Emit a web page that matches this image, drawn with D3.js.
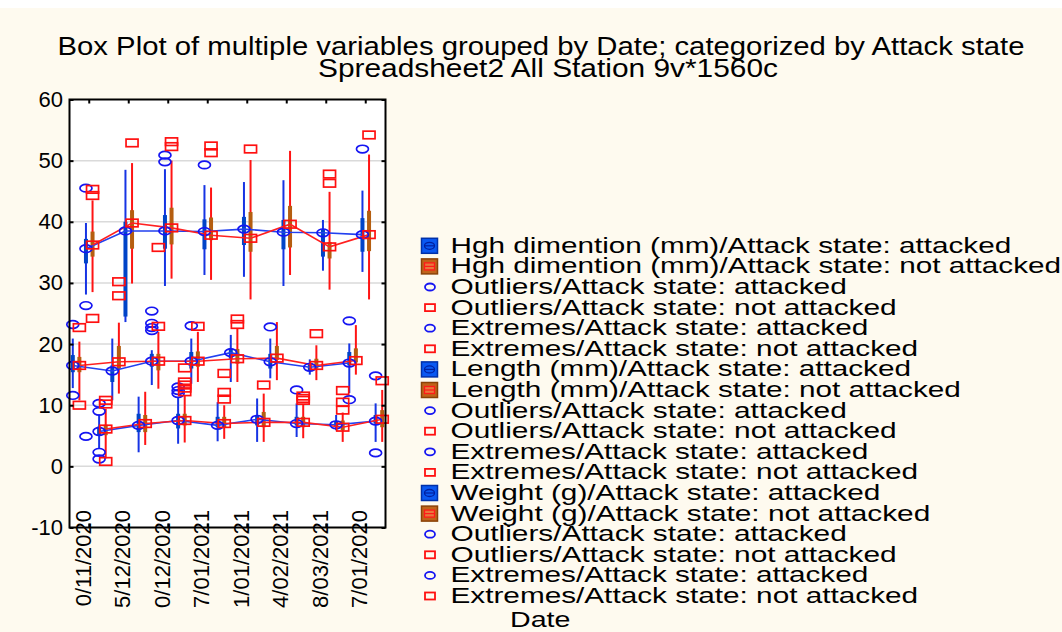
<!DOCTYPE html>
<html>
<head>
<meta charset="utf-8">
<script src="https://cdn.jsdelivr.net/npm/d3@7"></script>
<style>
  html, body { margin: 0; padding: 0; background: #fefaef; }
  svg { display: block; }
  text { font-family: "Liberation Sans", Arial, sans-serif; fill: #000; }
</style>
</head>
<body>
<svg id="chart" width="1062" height="632"></svg>
<script>
// ---- data ---------------------------------------------------------------
const dates = ["0/11/2020", "5/12/2020", "0/12/2020", "7/01/2021",
               "1/01/2021", "4/02/2021", "8/03/2021", "7/01/2020"];

const yTicks = [-10, 0, 10, 20, 30, 40, 50, 60];

// Each entry per date: [whisker low, Q1, median, Q3, whisker high]
const hghAttacked = [
  [28.1, 33.2, 35.6, 37.2, 39.8], [23.6, 24.5, 38.5, 40.0, 48.5],
  [29.5, 35.6, 38.5, 41.1, 48.6], [31.3, 35.5, 38.4, 40.4, 46.0],
  [31.0, 36.2, 38.8, 40.8, 46.5], [29.5, 35.5, 38.3, 40.3, 46.8],
  [32.0, 34.3, 38.2, 38.7, 40.3], [31.8, 35.1, 37.9, 40.6, 45.1]
];
const hghNotAttacked = [
  [28.5, 34.3, 36.2, 38.4, 43.5], [29.9, 35.6, 39.8, 41.9, 49.6],
  [30.7, 36.3, 39.0, 42.3, 50.0], [30.5, 37.0, 37.8, 40.7, 45.6],
  [27.3, 35.1, 37.3, 41.6, 50.1], [31.3, 35.8, 39.6, 42.6, 51.6],
  [28.9, 34.0, 35.9, 36.7, 44.9], [27.3, 35.2, 37.9, 41.8, 51.0]
];
const lenAttacked = [
  [12.8, 15.4, 16.5, 18.2, 20.9], [10.8, 13.8, 15.6, 16.5, 20.9],
  [13.3, 16.3, 17.2, 18.4, 19.0], [13.5, 16.0, 17.2, 18.7, 20.9],
  [13.8, 17.6, 18.6, 19.3, 21.5], [14.4, 16.0, 17.1, 18.4, 20.9],
  [15.0, 15.6, 16.2, 16.8, 17.5], [12.0, 16.5, 16.9, 18.7, 20.1]
];
const lenNotAttacked = [
  [10.8, 15.4, 16.5, 17.9, 20.4], [11.9, 16.0, 17.1, 19.7, 23.5],
  [12.7, 15.7, 17.2, 18.4, 22.0], [13.8, 16.3, 17.2, 18.8, 22.0],
  [13.8, 16.8, 17.6, 19.2, 22.5], [14.1, 17.4, 17.7, 19.7, 23.6],
  [14.1, 16.0, 16.5, 17.6, 19.8], [15.0, 17.0, 17.3, 19.3, 23.1]
];
const wgtAttacked = [
  [3.0, 5.0, 5.7, 6.5, 8.5], [2.3, 5.6, 6.7, 8.6, 11.4],
  [3.7, 6.2, 7.5, 8.6, 11.2], [4.1, 6.4, 6.7, 8.1, 10.5],
  [4.0, 6.7, 7.7, 8.4, 11.1], [4.8, 6.7, 7.0, 8.1, 10.3],
  [5.9, 6.4, 6.8, 7.4, 8.4], [4.0, 7.0, 7.4, 8.4, 10.3]
];
const wgtNotAttacked = [
  [1.3, 5.1, 6.1, 6.8, 9.4], [3.5, 5.6, 7.0, 8.4, 12.2],
  [3.9, 6.7, 7.5, 8.6, 11.5], [4.5, 6.4, 7.0, 8.1, 10.0],
  [4.0, 6.4, 7.2, 8.9, 11.9], [4.6, 6.4, 7.2, 8.1, 10.2],
  [4.0, 5.9, 6.4, 7.5, 8.8], [4.0, 6.4, 7.7, 9.2, 12.5]
];

// Outliers and extremes: [date index, value]
const hghAttackedOut = [[0, 45.5], [0, 26.3], [0, 4.9], [2, 50.9], [2, 49.8],
                        [3, 49.3], [7, 51.9]];
const hghNotAttackedOut = [[0, 45.3], [0, 44.3], [0, 24.2], [1, 52.9], [2, 53.1],
                           [2, 52.3], [3, 52.4], [3, 51.3], [4, 51.9], [6, 47.8],
                           [6, 46.3], [7, 54.2]];
const lenAttackedOut = [[0, 23.2], [0, 11.6], [2, 25.4], [2, 23.4], [2, 22.7],
                        [2, 22.2], [3, 23.0], [5, 22.8], [7, 23.8], [7, 10.9]];
const lenNotAttackedOut = [[0, 22.7], [0, 10.0], [1, 30.2], [1, 27.9], [2, 22.9],
                           [2, 35.8], [3, 22.9], [4, 24.1], [4, 23.2], [6, 21.7]];
const wgtAttackedOut = [[0, 10.3], [0, 9.0], [0, 2.3], [0, 1.2], [2, 13.0],
                        [2, 12.4], [2, 11.9], [5, 12.5], [7, 14.8], [7, 2.2]];
const wgtNotAttackedOut = [[0, 10.8], [0, 10.2], [0, 0.8], [2, 16.1], [2, 13.8],
                           [2, 13.3], [2, 12.8], [2, 12.2], [3, 15.2], [3, 12.1],
                           [3, 11.0], [4, 13.3], [5, 11.5], [5, 11.1], [5, 10.8],
                           [6, 12.4], [6, 10.5], [6, 9.2], [7, 14.0]];

// Series, in their left-to-right order inside each date group
const series = [
  { key: "lenA", state: "a", box: lenAttacked,     out: lenAttackedOut },
  { key: "lenN", state: "n", box: lenNotAttacked,  out: lenNotAttackedOut },
  { key: "hghA", state: "a", box: hghAttacked,     out: hghAttackedOut },
  { key: "hghN", state: "n", box: hghNotAttacked,  out: hghNotAttackedOut },
  { key: "wgtA", state: "a", box: wgtAttacked,     out: wgtAttackedOut },
  { key: "wgtN", state: "n", box: wgtNotAttacked,  out: wgtNotAttackedOut }
];

const legendRows = [
  ["boxA", "Hgh dimention (mm)/Attack state: attacked"],
  ["boxN", "Hgh dimention (mm)/Attack state: not attacked"],
  ["circ", "Outliers/Attack state: attacked"],
  ["sq",   "Outliers/Attack state: not attacked"],
  ["circ", "Extremes/Attack state: attacked"],
  ["sq",   "Extremes/Attack state: not attacked"],
  ["boxA", "Length (mm)/Attack state: attacked"],
  ["boxN", "Length (mm)/Attack state: not attacked"],
  ["circ", "Outliers/Attack state: attacked"],
  ["sq",   "Outliers/Attack state: not attacked"],
  ["circ", "Extremes/Attack state: attacked"],
  ["sq",   "Extremes/Attack state: not attacked"],
  ["boxA", "Weight (g)/Attack state: attacked"],
  ["boxN", "Weight (g)/Attack state: not attacked"],
  ["circ", "Outliers/Attack state: attacked"],
  ["sq",   "Outliers/Attack state: not attacked"],
  ["circ", "Extremes/Attack state: attacked"],
  ["sq",   "Extremes/Attack state: not attacked"]
];

// ---- styling ------------------------------------------------------------
const C = {
  blueWhisker: "#1634e4", blueBox: "#0044c8", blueMark: "#1515f2", blueLine: "#2240f0",
  redWhisker: "#ff1414", brownBox: "#b55e10", redMark: "#ff1010", redLine: "#ff2020",
  grid: "#dadada"
};
const FONT = "Liberation Sans, Arial, sans-serif";

const svg = d3.select("#chart");
const W = 1062, H = 632;

svg.append("rect").attr("width", W).attr("height", H).attr("fill", "#fefaef");
svg.append("rect").attr("width", W).attr("height", 8).attr("fill", "#ffffff");

const plot = { left: 69.5, right: 385.5, top: 99.5, bottom: 527.5 };

const x = d3.scaleBand().domain(d3.range(dates.length)).range([plot.left, plot.right]).padding(0);
const slot = d3.scaleBand().domain(series.map(s => s.key)).range([0, x.bandwidth()]);
const y = d3.scaleLinear().domain([-10, 60]).range([plot.bottom, plot.top]);
const cx = (key, i) => x(i) + slot(key) + slot.bandwidth() / 2;

// plot background
svg.append("rect")
  .attr("x", plot.left).attr("y", plot.top)
  .attr("width", plot.right - plot.left).attr("height", plot.bottom - plot.top)
  .attr("fill", "#ffffff");

// gridlines
svg.append("g").selectAll("line").data(yTicks.filter(v => v > -10 && v < 60)).join("line")
  .attr("x1", plot.left).attr("x2", plot.right)
  .attr("y1", d => y(d)).attr("y2", d => y(d))
  .attr("stroke", C.grid).attr("stroke-width", 1.5);

// whiskers and boxes
const gBoxes = svg.append("g");
series.forEach(s => {
  const g = gBoxes.append("g");
  const wc = s.state === "a" ? C.blueWhisker : C.redWhisker;
  const bc = s.state === "a" ? C.blueBox : C.brownBox;
  g.selectAll("line").data(s.box).join("line")
    .attr("x1", (d, i) => cx(s.key, i)).attr("x2", (d, i) => cx(s.key, i))
    .attr("y1", d => y(d[0])).attr("y2", d => y(d[4]))
    .attr("stroke", wc).attr("stroke-width", 2);
  g.selectAll("rect").data(s.box).join("rect")
    .attr("x", (d, i) => cx(s.key, i) - 2).attr("width", 4)
    .attr("y", d => y(d[3])).attr("height", d => y(d[1]) - y(d[3]))
    .attr("fill", bc);
});

// median connecting lines
const gLines = svg.append("g");
series.forEach(s => {
  const line = d3.line().x((d, i) => cx(s.key, i)).y(d => y(d[2]));
  gLines.append("path").datum(s.box)
    .attr("d", line).attr("fill", "none")
    .attr("stroke", s.state === "a" ? C.blueLine : C.redLine)
    .attr("stroke-width", 1.6);
});

// markers: medians, outliers, extremes
function drawMark(g, state, px, py) {
  if (state === "a") {
    g.append("ellipse").attr("cx", px).attr("cy", py).attr("rx", 6).attr("ry", 3.8)
      .attr("fill", "none").attr("stroke", C.blueMark).attr("stroke-width", 1.7);
  } else {
    g.append("rect").attr("x", px - 6).attr("y", py - 3.8).attr("width", 12).attr("height", 7.6)
      .attr("fill", "none").attr("stroke", C.redMark).attr("stroke-width", 1.7);
  }
}
const gMarks = svg.append("g");
["a", "n"].forEach(st => {
  series.filter(s => s.state === st).forEach(s => {
    s.box.forEach((d, i) => drawMark(gMarks, st, cx(s.key, i), y(d[2])));
    s.out.forEach(([i, v]) => drawMark(gMarks, st, cx(s.key, i), y(v)));
  });
});

// frame
svg.append("rect")
  .attr("x", plot.left).attr("y", plot.top)
  .attr("width", plot.right - plot.left).attr("height", plot.bottom - plot.top)
  .attr("fill", "none").attr("stroke", "#000").attr("stroke-width", 2);

// axes
const axLeft = svg.append("g").attr("transform", `translate(${plot.left},0)`)
  .call(d3.axisLeft(y).tickValues(yTicks).tickSize(-4).tickPadding(6.5).tickFormat(d => String(d)));
axLeft.attr("font-family", FONT);
axLeft.select(".domain").remove();
axLeft.selectAll("line").attr("stroke", "#000").attr("stroke-width", 2);
axLeft.selectAll("text").attr("font-size", 22).attr("fill", "#000");

const axRight = svg.append("g").attr("transform", `translate(${plot.right},0)`)
  .call(d3.axisRight(y).tickValues(yTicks).tickSize(-4).tickFormat(""));
axRight.select(".domain").remove();
axRight.selectAll("line").attr("stroke", "#000").attr("stroke-width", 2);

const axTop = svg.append("g").attr("transform", `translate(0,${plot.top})`)
  .call(d3.axisTop(x).tickSize(-4).tickFormat(""));
axTop.select(".domain").remove();
axTop.selectAll("line").attr("stroke", "#000").attr("stroke-width", 2);

const axBottom = svg.append("g").attr("transform", `translate(0,${plot.bottom})`)
  .call(d3.axisBottom(x).tickSize(-4).tickFormat(i => dates[i]));
axBottom.attr("font-family", FONT);
axBottom.select(".domain").remove();
axBottom.selectAll("line").attr("stroke", "#000").attr("stroke-width", 2);
axBottom.selectAll("text")
  .attr("font-size", 22).attr("fill", "#000")
  .attr("transform", "rotate(-90)")
  .attr("text-anchor", "end")
  .attr("x", 17.5).attr("y", 1.5).attr("dy", 0);

// titles: large, horizontally condensed lettering
function stretchedText(sel, width) {
  sel.attr("textLength", width).attr("lengthAdjust", "spacingAndGlyphs");
}
svg.append("text").attr("x", 57.5).attr("y", 55).attr("font-size", 26)
  .text("Box Plot of multiple variables grouped by  Date; categorized by Attack state")
  .call(stretchedText, 967);
svg.append("text").attr("x", 318).attr("y", 77).attr("font-size", 25)
  .text("Spreadsheet2 All Station 9v*1560c")
  .call(stretchedText, 460);

const dateLabel = svg.append("text").attr("x", 510).attr("y", 627).attr("font-size", 22).text("Date");
dateLabel.call(stretchedText, dateLabel.node().getComputedTextLength() * 1.3);

// legend
const legend = svg.append("g");
legendRows.forEach(([type, label], i) => {
  const cy = 245.8 + i * 20.6;
  const g = legend.append("g");
  if (type === "boxA") {
    g.append("rect").attr("x", 421.5).attr("y", cy - 7.5).attr("width", 16).attr("height", 15)
      .attr("fill", "#0a58f2").attr("stroke", "#0030a8").attr("stroke-width", 1.5);
    g.append("ellipse").attr("cx", 429.5).attr("cy", cy).attr("rx", 5).attr("ry", 3.5)
      .attr("fill", "none").attr("stroke", "#0020a0").attr("stroke-width", 1.3);
    g.append("line").attr("x1", 424.5).attr("x2", 434.5).attr("y1", cy).attr("y2", cy)
      .attr("stroke", "#0020a0").attr("stroke-width", 1.2);
  } else if (type === "boxN") {
    g.append("rect").attr("x", 421.5).attr("y", cy - 7.5).attr("width", 16).attr("height", 15)
      .attr("fill", "#c0631a").attr("stroke", "#8a4208").attr("stroke-width", 1.5);
    g.append("rect").attr("x", 424.5).attr("y", cy - 3.5).attr("width", 10).attr("height", 7)
      .attr("fill", "#e8783c").attr("stroke", "#ff1a1a").attr("stroke-width", 1.3);
    g.append("line").attr("x1", 424.5).attr("x2", 434.5).attr("y1", cy).attr("y2", cy)
      .attr("stroke", "#ff1a1a").attr("stroke-width", 1.2);
  } else if (type === "circ") {
    g.append("ellipse").attr("cx", 430).attr("cy", cy).attr("rx", 5).attr("ry", 3.5)
      .attr("fill", "none").attr("stroke", C.blueMark).attr("stroke-width", 1.8);
  } else {
    g.append("rect").attr("x", 425).attr("y", cy - 3.5).attr("width", 10).attr("height", 7)
      .attr("fill", "none").attr("stroke", C.redMark).attr("stroke-width", 1.8);
  }
  const t = g.append("text").attr("x", 450.5).attr("y", cy + 7).attr("font-size", 22).text(label);
  // wide, tightly packed lettering of the legend
  t.call(stretchedText, t.node().getComputedTextLength() * 1.25 + label.length);
});
</script>
</body>
</html>
